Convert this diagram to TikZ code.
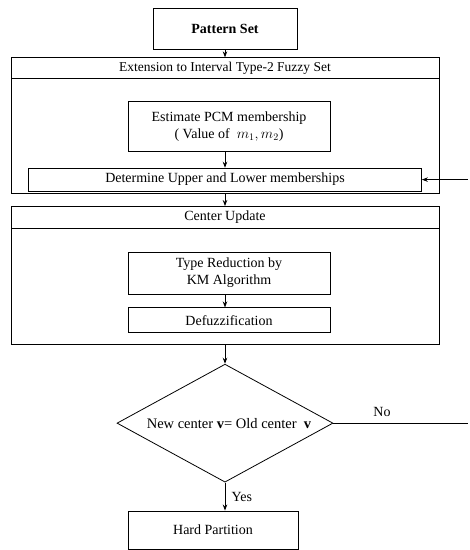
\documentclass[tikz,border=0pt]{standalone}
\usepackage{fontspec}
\setmainfont{Liberation Serif}
\usetikzlibrary{arrows.meta, positioning, shapes.geometric}

\begin{document}
\begin{tikzpicture}[
    x=1pt, y=-1pt,
    every node/.style={font=\fontsize{14}{17}\selectfont},
    box/.style={rectangle, draw=black, line width=0.7pt, inner sep=2pt, align=center},
    panel/.style={rectangle, draw=black, line width=0.7pt, minimum width=428pt, inner sep=0pt},
    check/.style={diamond, draw=black, line width=0.8pt, minimum width=216pt, minimum height=118pt, inner sep=0pt},
    arrow/.style={-{Stealth[length=6pt, width=4.5pt]}, line width=0.8pt},
    link/.style={line width=0.8pt}
]
    \useasboundingbox (0,0) rectangle (470,550);

    % Nodos
    \node[box, font=\fontsize{14}{17}\selectfont\bfseries, minimum width=144pt, minimum height=41pt] (pattern) at (225,28.5) {Pattern Set};

    \node[panel, minimum height=136pt, below=8pt of pattern] (ext) {};
    \node[panel, minimum height=21pt, below=0pt of ext.north, font=\fontsize{13.5}{16}\selectfont] (exthead) {Extension to Interval Type-2 Fuzzy Set};
    \node[box, minimum width=202pt, minimum height=50pt, below=22pt of exthead, xshift=4pt] (estimate) {Estimate PCM membership\\( Value of \ $m_1, m_2$)};
    \node[box, minimum width=393pt, minimum height=23pt, below=16pt of estimate, xshift=-4pt] (determine) {Determine Upper and Lower memberships};
    \coordinate[right=46pt of determine.east] (fbin);

    \node[panel, minimum height=138pt, below=12pt of ext] (center) {};
    \node[panel, minimum height=22pt, below=0pt of center.north] (centerhead) {Center Update};
    \node[box, minimum width=202pt, minimum height=42pt, below=23pt of centerhead, xshift=4pt] (typered) {Type Reduction by\\KM Algorithm};
    \node[box, minimum width=202pt, minimum height=25pt, below=13pt of typered] (defuzz) {Defuzzification};

    \node[check, below=19pt of center] (decide) {};
    \node[font=\fontsize{14.5}{17}\selectfont, xshift=4pt] (decidetext) at (decide.center) {New center \textbf{v}= Old center \ \textbf{v}};
    \coordinate[right=135pt of decide.east] (noend);

    \node[box, minimum width=170pt, minimum height=38pt, below=28pt of decide, xshift=-12pt] (hard) {Hard Partition};

    % Conexiones
    \draw[arrow] (pattern) -- (ext);
    \draw[arrow] (estimate.south -| pattern) -- (determine);
    \draw[arrow] (fbin) -- (determine);
    \draw[arrow] (ext) -- (center);
    \draw[arrow] (typered.south -| pattern) -- (defuzz.north -| pattern);
    \draw[arrow] (center) -- (decide);
    \draw[link] (decide.east) -- node[above, pos=0.36, yshift=3pt] {No} (noend);
    \draw[arrow] (decide.south) -- node[right, xshift=3pt] {Yes} (decide.south |- hard.north);

\end{tikzpicture}
\end{document}
